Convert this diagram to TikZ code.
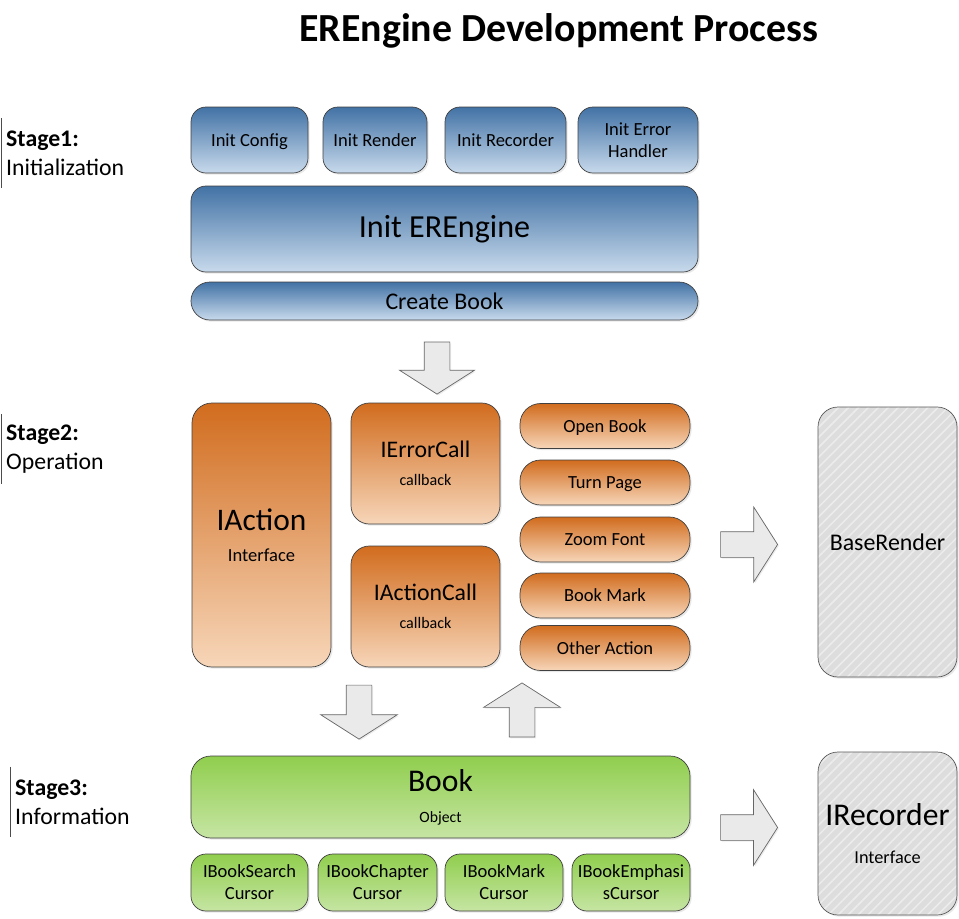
\documentclass[tikz,border=0pt]{standalone}
\usepackage{fontspec}
\setmainfont{Carlito}
\usetikzlibrary{shapes.arrows,shadows,patterns.meta}

\definecolor{initTop}{RGB}{66,114,165}
\definecolor{initBot}{RGB}{200,218,236}
\definecolor{opTop}{RGB}{209,108,30}
\definecolor{opBot}{RGB}{247,214,185}
\definecolor{infoTop}{RGB}{144,206,78}
\definecolor{infoBot}{RGB}{198,229,163}
\definecolor{rndFill}{RGB}{221,221,221}
\definecolor{rndHatch}{RGB}{236,236,236}
\definecolor{arrFill}{RGB}{234,234,234}

\tikzset{
  box/.style={draw=black!75, line width=0.6pt, rounded corners=0.45cm,
    inner sep=0pt, align=center, font=\fontsize{15.8}{18.8}\selectfont,
    drop shadow={opacity=0.18, shadow xshift=0.05cm, shadow yshift=-0.05cm}},
  oneline/.style={text height=0.36cm, text depth=0pt},
  initbox/.style={box, top color=initTop, bottom color=initBot},
  opbox/.style={box, top color=opTop, bottom color=opBot},
  infobox/.style={box, top color=infoTop, bottom color=infoBot},
  rndbox/.style={box, rounded corners=0.6cm, draw=black!65,
    preaction={fill=rndFill},
    preaction={pattern={Lines[angle=45,distance=6pt,line width=1.3pt]},
      pattern color=rndHatch}},
  blockarrow/.style={single arrow, draw=black!60, fill=arrFill, line width=0.6pt,
    single arrow head extend=0.735cm, single arrow tip angle=115,
    inner xsep=0pt, inner ysep=0.375cm, minimum height=1.62cm,
    drop shadow={opacity=0.15, shadow xshift=0.04cm, shadow yshift=-0.04cm}},
  stagelabel/.style={anchor=west, align=left, inner xsep=0.15cm, inner ysep=0pt,
    minimum height=2.1cm, font=\fontsize{20.3}{24.7}\selectfont},
  stagebar/.style={draw=black!70, line width=0.6pt}
}

\begin{document}
\begin{tikzpicture}[x=0.03cm, y=-0.03cm]
  \useasboundingbox (0,0) rectangle (959,918);

  \node[font=\bfseries\fontsize{34}{40}\selectfont] (title) at (559,31) {EREngine Development Process};

  % stage 1
  \node[stagelabel] (st1) at (1,153) {\textbf{Stage1:}\\Initialization};
  \draw[stagebar] (st1.north west) -- (st1.south west);
  \node[initbox, oneline, minimum width=3.51cm, minimum height=1.98cm] (cfg) at (249.5,140) {Init Config};
  \node[initbox, oneline, minimum width=3.12cm, minimum height=1.98cm] (rnd) at (375,140) {Init Render};
  \node[initbox, oneline, minimum width=3.63cm, minimum height=1.98cm] (rec) at (505.5,140) {Init Recorder};
  \node[initbox, minimum width=3.6cm, minimum height=1.98cm] (err) at (638,140) {Init Error\\Handler};
  \node[initbox, minimum width=15.21cm, minimum height=2.58cm, font=\fontsize{27.4}{32}\selectfont] (eng) at (444.5,229) {Init EREngine};
  \node[initbox, minimum width=15.21cm, minimum height=1.14cm, rounded corners=0.57cm, font=\fontsize{20.4}{24}\selectfont] (crt) at (444.5,301) {Create Book};

  \node[blockarrow, rotate=-90, minimum height=1.56cm] (dn1) at (437,364) {};

  % stage 2
  \node[stagelabel] (st2) at (1,449) {\textbf{Stage2:}\\Operation};
  \draw[stagebar] (st2.north west) -- (st2.south west);
  \node[opbox, rounded corners=0.6cm, minimum width=4.17cm, minimum height=7.92cm, font=\fontsize{26.8}{26.5}\selectfont] (iact) at (261.5,535) {IAction\\{\fontsize{15.8}{19}\selectfont Interface}};
  \node[opbox, rounded corners=0.55cm, minimum width=4.47cm, minimum height=3.63cm, font=\fontsize{20.3}{24}\selectfont] (ierr) at (425.5,463.5) {IErrorCall\\{\fontsize{13.7}{16}\selectfont callback}};
  \node[opbox, rounded corners=0.55cm, minimum width=4.47cm, minimum height=3.63cm, font=\fontsize{20.3}{24}\selectfont] (iacc) at (425.5,606.5) {IActionCall\\{\fontsize{13.7}{16}\selectfont callback}};
  \node[opbox, oneline, rounded corners=0.62cm, minimum width=5.1cm, minimum height=1.35cm] (open) at (605,426) {Open Book};
  \node[opbox, oneline, rounded corners=0.62cm, minimum width=5.1cm, minimum height=1.35cm] (turn) at (605,482.5) {Turn Page};
  \node[opbox, oneline, rounded corners=0.62cm, minimum width=5.1cm, minimum height=1.35cm] (zoom) at (605,539.5) {Zoom Font};
  \node[opbox, oneline, rounded corners=0.62cm, minimum width=5.1cm, minimum height=1.35cm] (mark) at (605,595.5) {Book Mark};
  \node[opbox, oneline, rounded corners=0.62cm, minimum width=5.1cm, minimum height=1.35cm] (other) at (605,648) {Other Action};

  \node[blockarrow, minimum height=1.71cm] (rt1) at (745,544.5) {};
  \node[rndbox, minimum width=4.17cm, minimum height=8.1cm, font=\fontsize{20.4}{24}\selectfont] (base) at (887.5,542) {BaseRender};

  \node[blockarrow, rotate=-90, single arrow head extend=0.765cm] (dn2) at (359,708) {};
  \node[blockarrow, rotate=90, single arrow head extend=0.765cm] (up1) at (522,714) {};

  % stage 3
  \node[stagelabel] (st3) at (10,802) {\textbf{Stage3:}\\Information};
  \draw[stagebar] (st3.north west) -- (st3.south west);
  \node[infobox, rounded corners=0.6cm, minimum width=14.97cm, minimum height=2.46cm, font=\fontsize{27}{26.5}\selectfont] (book) at (440.5,797) {Book\\{\fontsize{13.4}{16}\selectfont Object}};
  \node[infobox, minimum width=3.51cm, minimum height=1.71cm] (srch) at (249.5,882.5) {IBookSearch\\Cursor};
  \node[infobox, minimum width=3.57cm, minimum height=1.71cm] (chap) at (377.5,882.5) {IBookChapter\\Cursor};
  \node[infobox, minimum width=3.54cm, minimum height=1.71cm] (bmark) at (504,882.5) {IBookMark\\Cursor};
  \node[infobox, minimum width=3.54cm, minimum height=1.71cm] (emph) at (631,882.5) {IBookEmphasi\\sCursor};

  \node[blockarrow, minimum height=1.71cm, single arrow head extend=0.75cm] (rt2) at (745,827.5) {};
  \node[rndbox, minimum width=4.17cm, minimum height=4.89cm, font=\fontsize{27}{32}\selectfont] (irec) at (887.5,833.5) {IRecorder\\{\fontsize{15.6}{19}\selectfont Interface}};
\end{tikzpicture}
\end{document}
